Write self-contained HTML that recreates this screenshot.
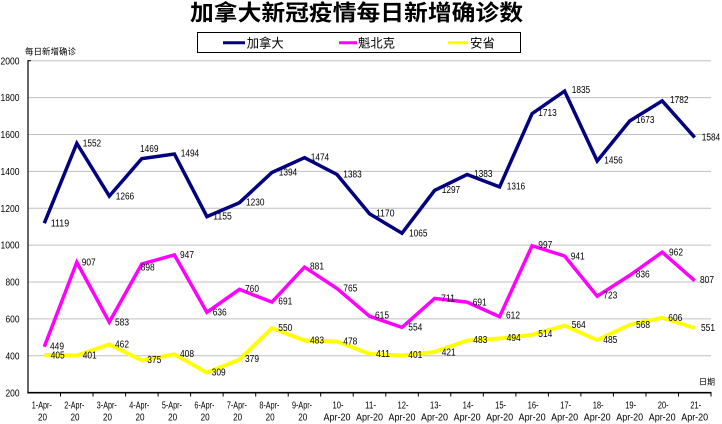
<!DOCTYPE html>
<html><head><meta charset="utf-8"><style>
html,body{margin:0;padding:0;background:#fff;width:722px;height:424px;overflow:hidden}
svg{display:block}
text{font-family:"Liberation Sans","Noto Sans CJK SC",sans-serif;fill:#000}
.cjk{font-family:"Noto Sans CJK SC","WenQuanYi Zen Hei",sans-serif}
.d{font-size:10px}
</style></head><body>
<svg width="722" height="424" viewBox="0 0 722 424" xmlns="http://www.w3.org/2000/svg">
<rect width="722" height="424" fill="#fff"/>
<!-- title -->
<text class="cjk" x="190" y="20.5" font-size="22" font-weight="bold" textLength="333" lengthAdjust="spacingAndGlyphs">加拿大新冠疫情每日新增确诊数</text>
<!-- legend -->
<rect x="197.5" y="32.5" width="323" height="20" fill="#fff" stroke="#000" stroke-width="1"/>
<line x1="223" y1="42.7" x2="245" y2="42.7" stroke="#000080" stroke-width="3"/>
<text class="cjk" x="246.7" y="47.3" font-size="12.5" textLength="37" lengthAdjust="spacingAndGlyphs">加拿大</text>
<line x1="339" y1="42.7" x2="357" y2="42.7" stroke="#ff00ff" stroke-width="3"/>
<text class="cjk" x="358" y="47.3" font-size="12.5" textLength="37" lengthAdjust="spacingAndGlyphs">魁北克</text>
<line x1="448" y1="42.7" x2="468" y2="42.7" stroke="#ffff00" stroke-width="3"/>
<text class="cjk" x="470" y="47.3" font-size="12.5" textLength="25" lengthAdjust="spacingAndGlyphs">安省</text>
<!-- axis titles -->
<text class="cjk" x="25" y="54.7" font-size="8.5" textLength="51" lengthAdjust="spacingAndGlyphs">每日新增确诊</text>
<text class="cjk" x="699" y="384.7" font-size="8" textLength="16" lengthAdjust="spacingAndGlyphs">日期</text>
<!-- gridlines -->
<g stroke="#c0c0c0" stroke-width="1">
<line x1="28" y1="60.7" x2="711" y2="60.7"/>
<line x1="28" y1="97.6" x2="711" y2="97.6"/>
<line x1="28" y1="134.5" x2="711" y2="134.5"/>
<line x1="28" y1="171.4" x2="711" y2="171.4"/>
<line x1="28" y1="208.3" x2="711" y2="208.3"/>
<line x1="28" y1="245.1" x2="711" y2="245.1"/>
<line x1="28" y1="282.0" x2="711" y2="282.0"/>
<line x1="28" y1="318.9" x2="711" y2="318.9"/>
<line x1="28" y1="355.8" x2="711" y2="355.8"/>
</g>
<!-- axes -->
<line x1="28" y1="60.2" x2="28" y2="393.2" stroke="#000" stroke-width="1.2"/>
<line x1="28" y1="60.7" x2="31" y2="60.7" stroke="#000" stroke-width="1"/>
<line x1="27.4" y1="392.7" x2="711.5" y2="392.7" stroke="#000" stroke-width="1.6"/>
<g stroke="#000" stroke-width="1">
<line x1="60.5" y1="392.7" x2="60.5" y2="396.5"/><line x1="93" y1="392.7" x2="93" y2="396.5"/>
<line x1="125.6" y1="392.7" x2="125.6" y2="396.5"/><line x1="158.1" y1="392.7" x2="158.1" y2="396.5"/>
<line x1="190.6" y1="392.7" x2="190.6" y2="396.5"/><line x1="223.1" y1="392.7" x2="223.1" y2="396.5"/>
<line x1="255.7" y1="392.7" x2="255.7" y2="396.5"/><line x1="288.2" y1="392.7" x2="288.2" y2="396.5"/>
<line x1="320.7" y1="392.7" x2="320.7" y2="396.5"/><line x1="353.2" y1="392.7" x2="353.2" y2="396.5"/>
<line x1="385.8" y1="392.7" x2="385.8" y2="396.5"/><line x1="418.3" y1="392.7" x2="418.3" y2="396.5"/>
<line x1="450.8" y1="392.7" x2="450.8" y2="396.5"/><line x1="483.3" y1="392.7" x2="483.3" y2="396.5"/>
<line x1="515.9" y1="392.7" x2="515.9" y2="396.5"/><line x1="548.4" y1="392.7" x2="548.4" y2="396.5"/>
<line x1="580.9" y1="392.7" x2="580.9" y2="396.5"/><line x1="613.4" y1="392.7" x2="613.4" y2="396.5"/>
<line x1="646" y1="392.7" x2="646" y2="396.5"/><line x1="678.5" y1="392.7" x2="678.5" y2="396.5"/>
<line x1="711" y1="392.7" x2="711" y2="396.5"/>
</g>
<!-- y tick labels -->
<g class="d" text-anchor="end">
<text x="19.5" y="64.3" textLength="19" lengthAdjust="spacingAndGlyphs">2000</text>
<text x="19.5" y="101.2" textLength="19" lengthAdjust="spacingAndGlyphs">1800</text>
<text x="19.5" y="138.1" textLength="19" lengthAdjust="spacingAndGlyphs">1600</text>
<text x="19.5" y="175" textLength="19" lengthAdjust="spacingAndGlyphs">1400</text>
<text x="19.5" y="211.9" textLength="19" lengthAdjust="spacingAndGlyphs">1200</text>
<text x="19.5" y="248.7" textLength="19" lengthAdjust="spacingAndGlyphs">1000</text>
<text x="19.5" y="285.6" textLength="14" lengthAdjust="spacingAndGlyphs">800</text>
<text x="19.5" y="322.5" textLength="14" lengthAdjust="spacingAndGlyphs">600</text>
<text x="19.5" y="359.4" textLength="14" lengthAdjust="spacingAndGlyphs">400</text>
<text x="19.5" y="396.3" textLength="14" lengthAdjust="spacingAndGlyphs">200</text>
</g>
<!-- x labels -->
<g class="d" text-anchor="middle">
<text x="41.8" y="408.6" textLength="20" lengthAdjust="spacingAndGlyphs">1-Apr-</text><text x="42.5" y="420.3" textLength="9" lengthAdjust="spacingAndGlyphs">20</text>
<text x="74.3" y="408.6" textLength="20" lengthAdjust="spacingAndGlyphs">2-Apr-</text><text x="75" y="420.3" textLength="9" lengthAdjust="spacingAndGlyphs">20</text>
<text x="106.8" y="408.6" textLength="20" lengthAdjust="spacingAndGlyphs">3-Apr-</text><text x="107.5" y="420.3" textLength="9" lengthAdjust="spacingAndGlyphs">20</text>
<text x="139.3" y="408.6" textLength="20" lengthAdjust="spacingAndGlyphs">4-Apr-</text><text x="140" y="420.3" textLength="9" lengthAdjust="spacingAndGlyphs">20</text>
<text x="171.9" y="408.6" textLength="20" lengthAdjust="spacingAndGlyphs">5-Apr-</text><text x="172.6" y="420.3" textLength="9" lengthAdjust="spacingAndGlyphs">20</text>
<text x="204.4" y="408.6" textLength="20" lengthAdjust="spacingAndGlyphs">6-Apr-</text><text x="205.1" y="420.3" textLength="9" lengthAdjust="spacingAndGlyphs">20</text>
<text x="236.9" y="408.6" textLength="20" lengthAdjust="spacingAndGlyphs">7-Apr-</text><text x="237.6" y="420.3" textLength="9" lengthAdjust="spacingAndGlyphs">20</text>
<text x="269.4" y="408.6" textLength="20" lengthAdjust="spacingAndGlyphs">8-Apr-</text><text x="270.1" y="420.3" textLength="9" lengthAdjust="spacingAndGlyphs">20</text>
<text x="302" y="408.6" textLength="20" lengthAdjust="spacingAndGlyphs">9-Apr-</text><text x="302.7" y="420.3" textLength="9" lengthAdjust="spacingAndGlyphs">20</text>
<text x="338" y="408.6" textLength="11" lengthAdjust="spacingAndGlyphs">10-</text><text x="337" y="420.3" textLength="27" lengthAdjust="spacingAndGlyphs">Apr-20</text>
<text x="370.5" y="408.6" textLength="11" lengthAdjust="spacingAndGlyphs">11-</text><text x="369.5" y="420.3" textLength="27" lengthAdjust="spacingAndGlyphs">Apr-20</text>
<text x="403" y="408.6" textLength="11" lengthAdjust="spacingAndGlyphs">12-</text><text x="402" y="420.3" textLength="27" lengthAdjust="spacingAndGlyphs">Apr-20</text>
<text x="435.5" y="408.6" textLength="11" lengthAdjust="spacingAndGlyphs">13-</text><text x="434.5" y="420.3" textLength="27" lengthAdjust="spacingAndGlyphs">Apr-20</text>
<text x="468.1" y="408.6" textLength="11" lengthAdjust="spacingAndGlyphs">14-</text><text x="467.1" y="420.3" textLength="27" lengthAdjust="spacingAndGlyphs">Apr-20</text>
<text x="500.6" y="408.6" textLength="11" lengthAdjust="spacingAndGlyphs">15-</text><text x="499.6" y="420.3" textLength="27" lengthAdjust="spacingAndGlyphs">Apr-20</text>
<text x="533.1" y="408.6" textLength="11" lengthAdjust="spacingAndGlyphs">16-</text><text x="532.1" y="420.3" textLength="27" lengthAdjust="spacingAndGlyphs">Apr-20</text>
<text x="565.6" y="408.6" textLength="11" lengthAdjust="spacingAndGlyphs">17-</text><text x="564.6" y="420.3" textLength="27" lengthAdjust="spacingAndGlyphs">Apr-20</text>
<text x="598.2" y="408.6" textLength="11" lengthAdjust="spacingAndGlyphs">18-</text><text x="597.2" y="420.3" textLength="27" lengthAdjust="spacingAndGlyphs">Apr-20</text>
<text x="630.7" y="408.6" textLength="11" lengthAdjust="spacingAndGlyphs">19-</text><text x="629.7" y="420.3" textLength="27" lengthAdjust="spacingAndGlyphs">Apr-20</text>
<text x="663.2" y="408.6" textLength="11" lengthAdjust="spacingAndGlyphs">20-</text><text x="662.2" y="420.3" textLength="27" lengthAdjust="spacingAndGlyphs">Apr-20</text>
<text x="695.7" y="408.6" textLength="11" lengthAdjust="spacingAndGlyphs">21-</text><text x="694.7" y="420.3" textLength="27" lengthAdjust="spacingAndGlyphs">Apr-20</text>
</g>
<!-- series -->
<g fill="none" stroke-linejoin="miter" stroke-linecap="butt">
<polyline stroke="#000080" stroke-width="3.5" points="44.3,223.2 76.8,143.3 109.3,196.1 141.8,158.6 174.4,154.0 206.9,216.6 239.4,202.7 271.9,172.5 304.5,157.7 337.0,174.5 369.5,213.8 402.0,233.2 434.6,190.4 467.1,174.5 499.6,186.9 532.1,113.6 564.6,91.1 597.2,161.0 629.7,121.0 662.2,100.9 694.7,137.4"/>
<polyline stroke="#ff00ff" stroke-width="3.5" points="44.3,346.8 76.8,262.3 109.3,322.1 141.8,264.0 174.4,254.9 206.9,312.3 239.4,289.4 271.9,302.1 304.5,267.1 337.0,288.5 369.5,316.2 402.0,327.4 434.6,298.4 467.1,302.1 499.6,316.7 532.1,245.7 564.6,256.0 597.2,296.2 629.7,275.4 662.2,252.2 694.7,280.7"/>
<polyline stroke="#ffff00" stroke-width="3.9" points="44.3,354.9 76.8,355.6 109.3,344.4 141.8,360.4 174.4,354.3 206.9,372.6 239.4,359.7 271.9,328.1 304.5,340.5 337.0,341.4 369.5,353.8 402.0,355.6 434.6,351.9 467.1,340.5 499.6,338.5 532.1,334.8 564.6,325.6 597.2,340.1 629.7,324.8 662.2,317.8 694.7,328.0"/>
</g>
<!-- data labels: Canada -->
<g class="d">
<text x="50.7" y="226.3" textLength="18.5" lengthAdjust="spacingAndGlyphs">1119</text>
<text x="82.7" y="146.3" textLength="18.5" lengthAdjust="spacingAndGlyphs">1552</text>
<text x="115.7" y="199.6" textLength="18.5" lengthAdjust="spacingAndGlyphs">1266</text>
<text x="140" y="151.9" textLength="18.5" lengthAdjust="spacingAndGlyphs">1469</text>
<text x="180.7" y="156.3" textLength="18.5" lengthAdjust="spacingAndGlyphs">1494</text>
<text x="213.3" y="219.6" textLength="18.5" lengthAdjust="spacingAndGlyphs">1155</text>
<text x="246" y="205.3" textLength="18.5" lengthAdjust="spacingAndGlyphs">1230</text>
<text x="278.7" y="175.6" textLength="18.5" lengthAdjust="spacingAndGlyphs">1394</text>
<text x="310.7" y="160.3" textLength="18.5" lengthAdjust="spacingAndGlyphs">1474</text>
<text x="343.3" y="177.6" textLength="18.5" lengthAdjust="spacingAndGlyphs">1383</text>
<text x="376" y="216.3" textLength="18.5" lengthAdjust="spacingAndGlyphs">1170</text>
<text x="409" y="236.3" textLength="18.5" lengthAdjust="spacingAndGlyphs">1065</text>
<text x="441.7" y="192.9" textLength="18.5" lengthAdjust="spacingAndGlyphs">1297</text>
<text x="474" y="176.9" textLength="18.5" lengthAdjust="spacingAndGlyphs">1383</text>
<text x="506.7" y="189.6" textLength="18.5" lengthAdjust="spacingAndGlyphs">1316</text>
<text x="538.3" y="115.9" textLength="18.5" lengthAdjust="spacingAndGlyphs">1713</text>
<text x="571.7" y="92.9" textLength="18.5" lengthAdjust="spacingAndGlyphs">1835</text>
<text x="604.3" y="163.6" textLength="18.5" lengthAdjust="spacingAndGlyphs">1456</text>
<text x="636" y="122.9" textLength="18.5" lengthAdjust="spacingAndGlyphs">1673</text>
<text x="670" y="102.9" textLength="18.5" lengthAdjust="spacingAndGlyphs">1782</text>
<text x="701.7" y="140.3" textLength="18.5" lengthAdjust="spacingAndGlyphs">1584</text>
</g>
<!-- Quebec -->
<g class="d">
<text x="50" y="349.6" textLength="14" lengthAdjust="spacingAndGlyphs">449</text>
<text x="81.7" y="265.3" textLength="14" lengthAdjust="spacingAndGlyphs">907</text>
<text x="115" y="325.3" textLength="14" lengthAdjust="spacingAndGlyphs">583</text>
<text x="140.7" y="270.3" textLength="14" lengthAdjust="spacingAndGlyphs">898</text>
<text x="180" y="257.9" textLength="14" lengthAdjust="spacingAndGlyphs">947</text>
<text x="212.7" y="315.3" textLength="14" lengthAdjust="spacingAndGlyphs">636</text>
<text x="245" y="291.9" textLength="14" lengthAdjust="spacingAndGlyphs">760</text>
<text x="278.3" y="304.6" textLength="14" lengthAdjust="spacingAndGlyphs">691</text>
<text x="310" y="269.6" textLength="14" lengthAdjust="spacingAndGlyphs">881</text>
<text x="343.3" y="291.3" textLength="14" lengthAdjust="spacingAndGlyphs">765</text>
<text x="375" y="318.6" textLength="14" lengthAdjust="spacingAndGlyphs">615</text>
<text x="408.3" y="330.3" textLength="14" lengthAdjust="spacingAndGlyphs">554</text>
<text x="441" y="301.3" textLength="14" lengthAdjust="spacingAndGlyphs">711</text>
<text x="472.7" y="305.3" textLength="14" lengthAdjust="spacingAndGlyphs">691</text>
<text x="506" y="318.6" textLength="14" lengthAdjust="spacingAndGlyphs">612</text>
<text x="538.3" y="247.9" textLength="14" lengthAdjust="spacingAndGlyphs">997</text>
<text x="570.7" y="259.3" textLength="14" lengthAdjust="spacingAndGlyphs">941</text>
<text x="603.3" y="298.6" textLength="14" lengthAdjust="spacingAndGlyphs">723</text>
<text x="635.7" y="277.6" textLength="14" lengthAdjust="spacingAndGlyphs">836</text>
<text x="669" y="255.3" textLength="14" lengthAdjust="spacingAndGlyphs">962</text>
<text x="700" y="282.9" textLength="14" lengthAdjust="spacingAndGlyphs">807</text>
</g>
<!-- Ontario -->
<g class="d">
<text x="50.7" y="358.6" textLength="14" lengthAdjust="spacingAndGlyphs">405</text>
<text x="82.7" y="358.6" textLength="14" lengthAdjust="spacingAndGlyphs">401</text>
<text x="115" y="347.6" textLength="14" lengthAdjust="spacingAndGlyphs">462</text>
<text x="147.3" y="362.9" textLength="14" lengthAdjust="spacingAndGlyphs">375</text>
<text x="180" y="356.9" textLength="14" lengthAdjust="spacingAndGlyphs">408</text>
<text x="211.7" y="375.3" textLength="14" lengthAdjust="spacingAndGlyphs">309</text>
<text x="245" y="361.9" textLength="14" lengthAdjust="spacingAndGlyphs">379</text>
<text x="278.3" y="330.9" textLength="14" lengthAdjust="spacingAndGlyphs">550</text>
<text x="310" y="343.6" textLength="14" lengthAdjust="spacingAndGlyphs">483</text>
<text x="343.3" y="344.3" textLength="14" lengthAdjust="spacingAndGlyphs">478</text>
<text x="376" y="356.9" textLength="14" lengthAdjust="spacingAndGlyphs">411</text>
<text x="408.3" y="357.9" textLength="14" lengthAdjust="spacingAndGlyphs">401</text>
<text x="441.7" y="355.3" textLength="14" lengthAdjust="spacingAndGlyphs">421</text>
<text x="473.3" y="342.9" textLength="14" lengthAdjust="spacingAndGlyphs">483</text>
<text x="506.7" y="340.9" textLength="14" lengthAdjust="spacingAndGlyphs">494</text>
<text x="538.3" y="336.9" textLength="14" lengthAdjust="spacingAndGlyphs">514</text>
<text x="571.7" y="327.9" textLength="14" lengthAdjust="spacingAndGlyphs">564</text>
<text x="603.3" y="342.9" textLength="14" lengthAdjust="spacingAndGlyphs">485</text>
<text x="636" y="327.9" textLength="14" lengthAdjust="spacingAndGlyphs">568</text>
<text x="668.3" y="320.9" textLength="14" lengthAdjust="spacingAndGlyphs">606</text>
<text x="701" y="330.9" textLength="14" lengthAdjust="spacingAndGlyphs">551</text>
</g>
</svg>
</body></html>
